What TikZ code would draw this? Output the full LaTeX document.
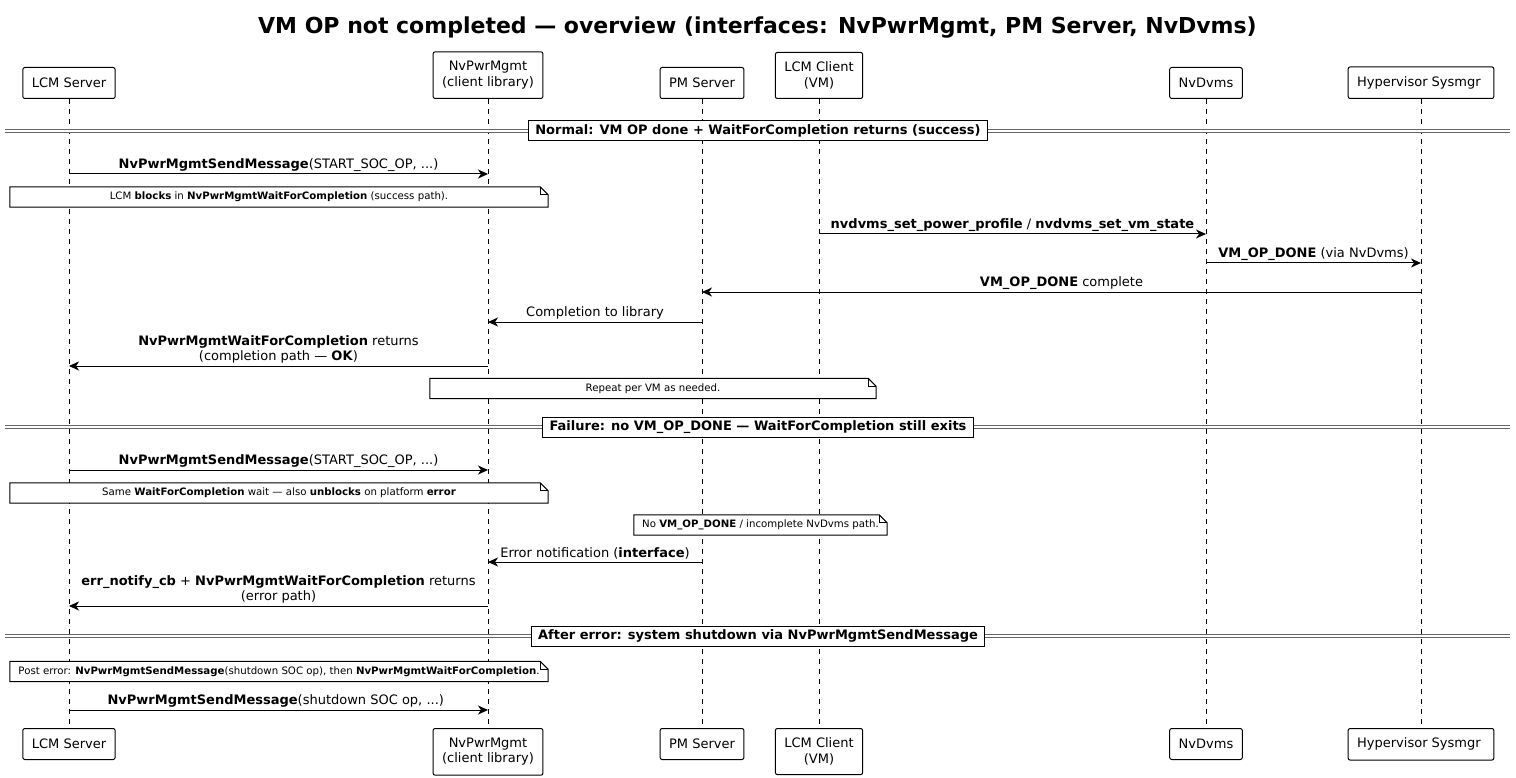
\documentclass[tikz,border=0pt]{standalone}
\usepackage{fontspec}
\setmainfont{DejaVu Sans}
\usetikzlibrary{arrows.meta}
\tikzset{
    actor/.style={draw, rounded corners=2pt, line width=1pt, align=center, inner xsep=9pt, inner ysep=9.5pt, minimum height=31pt, font=\fontsize{13}{15.5}\selectfont}, % participant box
    lifeline/.style={line width=0.8pt, dash pattern=on 5pt off 5pt}, % dashed life line
    msg/.style={line width=1pt, -{Stealth[length=10pt, width=9pt, inset=3pt]}}, % message arrow
    msgtext/.style={anchor=south, align=center, inner sep=2pt, font=\fontsize{13}{15}\selectfont}, % message label
    note/.style={minimum height=20pt, inner sep=0pt, font=\fontsize{10.2}{12}\selectfont}, % note text
    divider/.style={draw, fill=white, line width=1pt, minimum height=20pt, inner xsep=7pt, inner ysep=0pt, font=\bfseries\fontsize{13}{15}\selectfont}, % section label
    sepline/.style={draw=black!60, line width=0.8pt, double=white, double distance=1.6pt} % section double line
}
\newcommand\notefold[1]{%
    \filldraw[fill=white, line width=1pt] (#1.north west) -- ([xshift=-8pt]#1.north east) -- ([yshift=-8pt]#1.north east) -- (#1.south east) -- (#1.south west) -- cycle;
    \draw[line width=1pt] ([xshift=-8pt]#1.north east) |- ([yshift=-8pt]#1.north east);
}
\begin{document}
\begin{tikzpicture}[x=1pt, y=-1pt]
    \useasboundingbox (0,0) rectangle (1516,778);

    \node[font=\bfseries\fontsize{22}{26}\selectfont] (title) at (757.5,28) {VM OP not completed — overview (interfaces: NvPwrMgmt, PM Server, NvDvms)};

    \foreach \name/\x/\txt in {
        lcm/69/{LCM Server},
        lib/488/{NvPwrMgmt\\(client library)},
        pm/702/{PM Server},
        cli/819/{LCM Client\\(VM)},
        dvms/1206/{NvDvms},
        hyp/1421/{Hypervisor Sysmgr}
    } {
        \node[actor, anchor=south] (\name-t) at (\x,99) {\txt};
        \node[actor, anchor=north] (\name-b) at (\x,728) {\txt};
        \draw[lifeline] (\name-t) -- (\name-b);
    }

    \foreach \y/\src/\dst/\txt in {
        174/lcm/lib/{\textbf{NvPwrMgmtSendMessage}(START\_SOC\_OP, ...)},
        234/cli/dvms/{\textbf{nvdvms\_set\_power\_profile} / \textbf{nvdvms\_set\_vm\_state}},
        263/dvms/hyp/{\textbf{VM\_OP\_DONE} (via NvDvms)},
        292/hyp/pm/{\textbf{VM\_OP\_DONE} complete},
        322/pm/lib/{Completion to library},
        366/lib/lcm/{\textbf{NvPwrMgmtWaitForCompletion} returns\\(completion path — \textbf{OK})},
        470/lcm/lib/{\textbf{NvPwrMgmtSendMessage}(START\_SOC\_OP, ...)},
        562/pm/lib/{Error notification (\textbf{interface})},
        606/lib/lcm/{\textbf{err\_notify\_cb} + \textbf{NvPwrMgmtWaitForCompletion} returns\\(error path)},
        710/lcm/lib/{\textbf{NvPwrMgmtSendMessage}(shutdown SOC op, ...)}
    } {
        \coordinate (m) at (0,\y);
        \draw[msg] (\src-t |- m) -- node[msgtext] {\txt} (\dst-t |- m);
    }

    % notes
    \node[note, minimum width=538pt] (n1) at (279,197) {};
    \notefold{n1}
    \node[note] at (n1) {LCM \textbf{blocks} in \textbf{NvPwrMgmtWaitForCompletion} (success path).};
    \node[note, minimum width=446pt] (n2) at (653,388.5) {};
    \notefold{n2}
    \node[note] at (n2) {Repeat per VM as needed.};
    \node[note, minimum width=538pt] (n3) at (279,493) {};
    \notefold{n3}
    \node[note] at (n3) {Same \textbf{WaitForCompletion} wait — also \textbf{unblocks} on platform \textbf{error}};
    \node[note, minimum width=253pt] (n4) at (760.5,525) {};
    \notefold{n4}
    \node[note] at (n4) {No \textbf{VM\_OP\_DONE} / incomplete NvDvms path.};
    \node[note, minimum width=538pt] (n5) at (279,671.5) {};
    \notefold{n5}
    \node[note] at (n5) {Post error: \textbf{NvPwrMgmtSendMessage}(shutdown SOC op), then \textbf{NvPwrMgmtWaitForCompletion}.};

    % sections
    \coordinate (left) at (5,0);
    \coordinate (right) at (1510,0);
    \foreach \y/\name/\txt in {
        131/d1/{Normal: VM OP done + WaitForCompletion returns (success)},
        427/d2/{Failure: no VM\_OP\_DONE — WaitForCompletion still exits},
        636/d3/{After error: system shutdown via NvPwrMgmtSendMessage}
    } {
        \coordinate (\name) at (758,\y);
        \draw[sepline] (left |- \name) -- (right |- \name);
        \node[divider] (\name-box) at (\name) {\txt};
    }
\end{tikzpicture}
\end{document}
